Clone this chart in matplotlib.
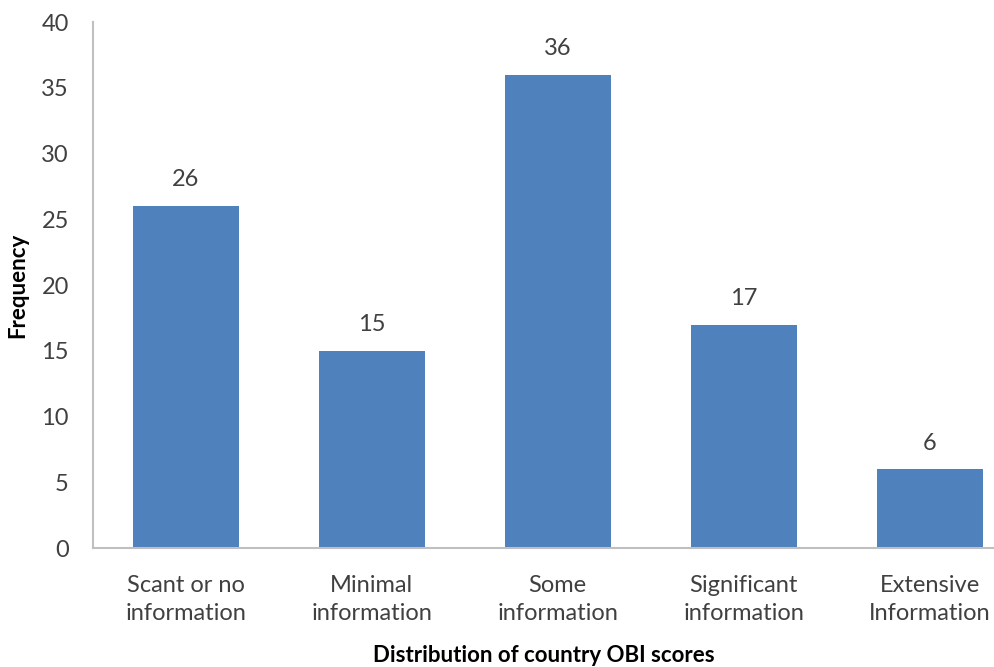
import matplotlib.pyplot as plt

plt.rcParams['font.family'] = ['Lato', 'DejaVu Sans']

categories = ["Scant or no\ninformation", "Minimal\ninformation", "Some\ninformation",
              "Significant\ninformation", "Extensive\nInformation"]
frequency = [26, 15, 36, 17, 6]
yticks = [0, 5, 10, 15, 20, 25, 30, 35, 40]

fig = plt.figure(figsize=(9.95, 6.67), dpi=100)
ax = fig.add_axes([0.093, 0.178, 0.907, 0.789])

x = range(len(categories))
ax.bar(x, frequency, width=0.57, color='#4F81BD')
for i, v in zip(x, frequency):
    ax.text(i, v + 2.0, str(v), ha='center', va='center', fontsize=17, color='#404040')

ax.set_xlim(-0.5, 4.35)
ax.set_ylim(0, 40)
ax.set_yticks(yticks)
ax.set_xticks(list(x))
ax.set_xticklabels(categories, fontsize=17, color='#404040', linespacing=1.42)
ax.tick_params(axis='y', labelsize=17, labelcolor='#404040', length=0, pad=17)
ax.tick_params(axis='x', length=0, pad=19)

for s in ['top', 'right']:
    ax.spines[s].set_visible(False)
for s in ['left', 'bottom']:
    ax.spines[s].set_color('#BFBFBF')
    ax.spines[s].set_linewidth(1.5)

ax.set_xlabel("Distribution of country OBI scores", fontsize=16, fontweight='bold', va='center')
ax.set_ylabel("Frequency", fontsize=16, fontweight='bold', va='center')
ax.xaxis.set_label_coords(0.5, -0.203)
ax.yaxis.set_label_coords(-0.083, 0.5)

fig.savefig('out.png', dpi=100)
